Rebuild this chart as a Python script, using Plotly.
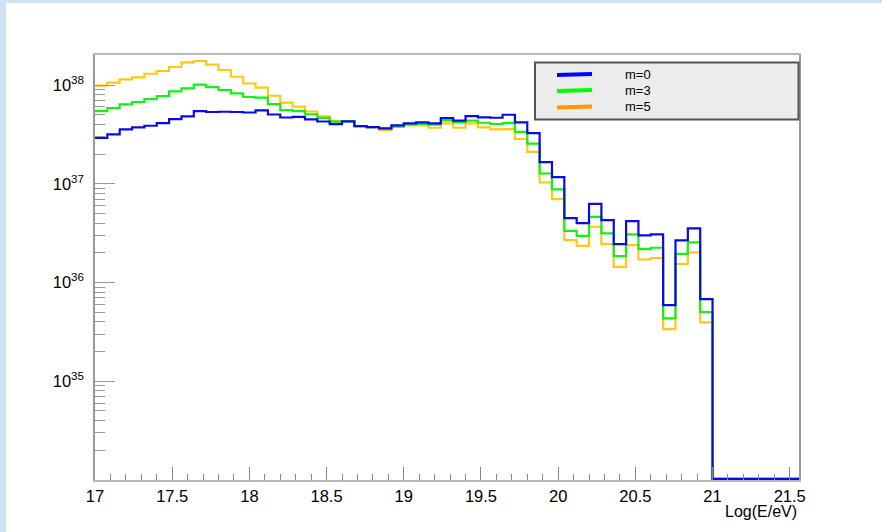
import plotly.graph_objects as go

# ---- data ----
bin_lo = 17.0
bin_width = 0.08
n_bins = 57

m0 = [2.92e37, 3.17e37, 3.56e37, 3.73e37, 3.87e37, 4.12e37, 4.52e37, 4.82e37, 5.45e37, 5.33e37,
      5.36e37, 5.33e37, 5.27e37, 5.54e37, 5.03e37, 4.69e37, 4.76e37, 4.49e37, 4.27e37, 4.01e37,
      4.29e37, 3.84e37, 3.74e37, 3.64e37, 3.91e37, 4.09e37, 4.19e37, 4.09e37, 4.63e37, 4.35e37,
      4.85e37, 4.71e37, 4.66e37, 5.00e37, 4.19e37, 3.26e37, 1.66e37, 1.17e37, 4.49e36, 4.00e36,
      6.27e36, 4.29e36, 2.45e36, 4.19e36, 3.00e36, 3.07e36, 5.90e35, 2.67e36, 3.53e36, 6.79e35,
      0, 0, 0, 0, 0, 0, 0]
m3 = [5.45e37, 5.85e37, 6.38e37, 6.73e37, 7.21e37, 7.74e37, 8.63e37, 9.26e37, 1.007e38, 9.54e37,
      8.90e37, 8.24e37, 7.56e37, 7.44e37, 6.39e37, 5.58e37, 5.45e37, 5.06e37, 4.65e37, 4.25e37,
      4.29e37, 3.84e37, 3.75e37, 3.61e37, 3.78e37, 4.00e37, 4.03e37, 3.96e37, 4.39e37, 4.19e37,
      4.35e37, 4.15e37, 4.03e37, 4.12e37, 3.36e37, 2.55e37, 1.27e37, 8.77e36, 3.34e36, 2.97e36,
      4.63e36, 3.15e36, 1.85e36, 3.07e36, 2.18e36, 2.25e36, 4.33e35, 1.95e36, 2.55e36, 5.01e35,
      0, 0, 0, 0, 0, 0, 0]
m5 = [9.84e37, 1.055e38, 1.14e38, 1.197e38, 1.30e38, 1.387e38, 1.522e38, 1.698e38, 1.751e38, 1.606e38,
      1.419e38, 1.213e38, 1.036e38, 9.39e37, 7.79e37, 6.62e37, 6.03e37, 5.39e37, 4.82e37, 4.30e37,
      4.30e37, 3.84e37, 3.73e37, 3.50e37, 3.78e37, 3.91e37, 3.91e37, 3.69e37, 4.09e37, 3.69e37,
      4.09e37, 3.73e37, 3.56e37, 3.57e37, 2.84e37, 2.10e37, 1.03e37, 7.00e36, 2.69e36, 2.35e36,
      3.67e36, 2.45e36, 1.44e36, 2.39e36, 1.71e36, 1.77e36, 3.37e35, 1.54e36, 2.02e36, 3.94e35,
      0, 0, 0, 0, 0, 0, 0]

series_names = ["m=0", "m=3", "m=5"]
line_colors = ["#0a0ae6", "#14f014", "#ffc814"]
legend_colors = ["#0000ff", "#00ff00", "#ff9900"]

x_ticks = [17, 17.5, 18, 18.5, 19, 19.5, 20, 20.5, 21, 21.5]
y_tick_exponents = [35, 36, 37, 38]
x_title = "Log(E/eV)"

# ---- layout geometry ----
W, H = 882, 532
L, R, T, B = 95, 83, 55, 52
PW, PH = W - L - R, H - T - B
y_log_range = [34.0, 38.304]
x_range = [bin_lo, bin_lo + n_bins * bin_width]


def px(xp):
    return (xp - L) / PW


def py(yp):
    return (H - B - yp) / PH


edges = [bin_lo + bin_width * i for i in range(n_bins + 1)]
floor_val = 10.0 ** (y_log_range[0] + 0.012)

fig = go.Figure()
order = [2, 1, 0]
data = [m0, m3, m5]
for idx in order:
    vals = [float(v) if v > 0 else floor_val for v in data[idx]]
    fig.add_trace(go.Scatter(
        x=edges, y=vals + [vals[-1]], mode="lines", line_shape="hv",
        line=dict(color=line_colors[idx], width=2.2), name=series_names[idx],
        showlegend=False, hoverinfo="skip"))

FONT = "Liberation Sans, Arial, sans-serif"
axis_font = dict(family=FONT, size=16.5, color="black")

fig.update_layout(
    width=W, height=H,
    margin=dict(l=L, r=R, t=T, b=B, pad=0),
    paper_bgcolor="#cfe1f2",
    plot_bgcolor="white",
    showlegend=False,
    xaxis=dict(range=x_range, tickvals=x_ticks, ticks="inside", ticklen=13, tickwidth=1,
               tickcolor="#888888", showgrid=False, zeroline=False, showline=True,
               linecolor="#b8b8b8", linewidth=1.5, mirror=True, tickfont=axis_font,
               minor=dict(ticks="inside", ticklen=6, dtick=0.1, tick0=17, tickcolor="#888888",
                          showgrid=False)),
    yaxis=dict(type="log", range=y_log_range,
               tickvals=[10.0 ** e for e in y_tick_exponents],
               ticktext=["10<sup>%d</sup>" % e for e in y_tick_exponents],
               ticks="inside", ticklen=20, tickwidth=1, tickcolor="#999999",
               showgrid=False, zeroline=False, showline=True, linecolor="#999999",
               linewidth=1.5, mirror=True, tickfont=axis_font, ticklabelstandoff=6,
               minor=dict(ticks="inside", ticklen=10, dtick="D1", tickcolor="#999999",
                          showgrid=False)),
)

shapes = []
# white page area (light-blue strip on top and left)
shapes.append(dict(type="rect", xref="paper", yref="paper", x0=px(6), x1=px(W + 5),
                   y0=py(3), y1=py(H + 5), fillcolor="white", line=dict(width=0), layer="below"))
# legend box
shapes.append(dict(type="rect", xref="paper", yref="paper", x0=px(535), x1=px(798.5),
                   y0=py(119.5), y1=py(62.5), fillcolor="#ececec",
                   line=dict(color="#555555", width=2), layer="above"))
annotations = []
rows_y = [74.5, 90.5, 107]
for i in range(3):
    shapes.append(dict(type="line", xref="paper", yref="paper", x0=px(557), x1=px(592),
                       y0=py(rows_y[i] + 0.5), y1=py(rows_y[i] - 0.5),
                       line=dict(color=legend_colors[i], width=4), layer="above"))
    annotations.append(dict(xref="paper", yref="paper", x=px(623), y=py(rows_y[i]),
                            text=series_names[i], showarrow=False, xanchor="left",
                            yanchor="middle",
                            font=dict(family=FONT, size=13, color="black")))
annotations.append(dict(xref="paper", yref="paper", x=px(799), y=py(512), text=x_title,
                        showarrow=False, xanchor="right", yanchor="middle",
                        font=dict(family=FONT, size=16, color="black")))
fig.update_layout(shapes=shapes, annotations=annotations)

fig.write_html("out.html")
